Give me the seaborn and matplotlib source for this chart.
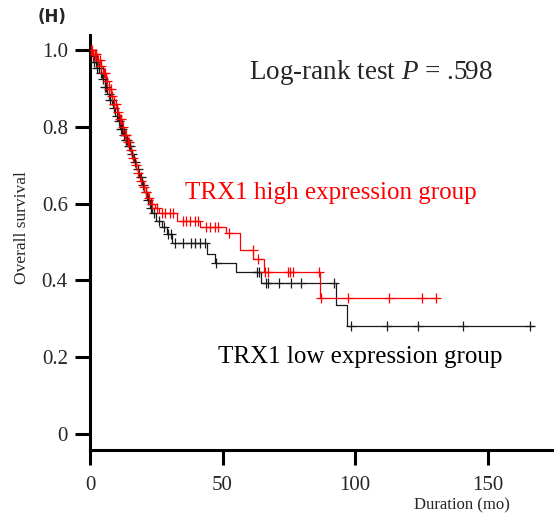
import matplotlib
matplotlib.use("Agg")
import matplotlib.pyplot as plt
import seaborn as sns
import pandas as pd
import numpy as np

# Kaplan-Meier step points (time in months, survival after the drop)
high_time = [0, 1.0, 2.5, 4.0, 5.0, 6.0, 7.0, 8.0, 9.0, 10.0, 11.0, 12.0, 13.0, 14.0, 15.0,
             16.0, 17.0, 18.0, 19.0, 20.0, 21.0, 22.0, 23.0, 24.5, 26.0, 33.0, 41.6, 51.4,
             56.4, 61.4, 65.6, 86.7, 130.5]
high_surv = [1.0, 0.99, 0.975, 0.96, 0.94, 0.92, 0.90, 0.88, 0.86, 0.84, 0.82, 0.80, 0.78,
             0.76, 0.74, 0.72, 0.70, 0.68, 0.66, 0.645, 0.63, 0.615, 0.60, 0.59, 0.575,
             0.556, 0.540, 0.523, 0.480, 0.455, 0.423, 0.353, 0.353]
high_cens = [0.3, 0.8, 1.3, 1.8, 2.3, 3.0, 3.6, 4.3, 5.2, 5.8, 6.5, 7.2, 7.8, 8.4, 9.2, 9.8,
             10.5, 11.2, 11.8, 12.4, 13.1, 13.6, 14.3, 14.8, 15.5, 16.3, 17.2, 18.2, 19.1,
             20.2, 21.2, 22.3, 23.5, 25.2, 27.0, 28.2, 30.1, 31.3, 35.1, 36.3, 37.6, 39.5,
             40.8, 43.8, 45.1, 47.0, 48.2, 52.4, 61.3, 63.5, 66.0, 67.0, 74.5, 75.4, 76.4,
             86.5, 87.1, 97.4, 112.8, 125.2, 130.5]

low_time = [0, 0.8, 1.6, 2.5, 3.5, 4.5, 5.5, 6.5, 7.5, 8.5, 9.5, 10.5, 11.5, 12.5, 13.5, 14.5,
            15.5, 16.5, 17.5, 18.5, 19.5, 20.5, 21.5, 22.5, 23.5, 25.0, 27.0, 29.0, 31.0,
            44.1, 47.0, 54.9, 64.5, 92.9, 97.1, 167.3]
low_surv = [1.0, 0.985, 0.97, 0.955, 0.94, 0.925, 0.905, 0.885, 0.87, 0.85, 0.83, 0.815,
            0.795, 0.78, 0.765, 0.75, 0.73, 0.71, 0.69, 0.67, 0.65, 0.63, 0.61, 0.59, 0.575,
            0.555, 0.54, 0.52, 0.497, 0.468, 0.446, 0.423, 0.394, 0.336, 0.281, 0.281]
low_cens = [0.5, 1.0, 1.6, 2.2, 2.8, 3.4, 4.0, 4.8, 5.5, 6.2, 7.0, 7.6, 8.4, 9.2, 10.0, 10.8,
            11.6, 12.2, 12.7, 13.2, 13.6, 14.1, 14.6, 15.2, 16.0, 17.0, 18.2, 19.2, 20.0,
            21.0, 22.0, 23.0, 24.0, 26.0, 28.0, 29.5, 30.5, 32.0, 35.0, 38.0, 39.5, 41.4,
            43.2, 47.6, 62.9, 63.9, 66.2, 67.0, 71.4, 75.8, 79.6, 92.1, 98.6, 112.2, 123.7,
            140.5, 165.8]


def surv_at(times, surv, t):
    idx = np.searchsorted(times, t, side="right") - 1
    return np.asarray(surv)[idx]


curves = pd.concat([
    pd.DataFrame({"time": high_time, "surv": high_surv, "group": "high"}),
    pd.DataFrame({"time": low_time, "surv": low_surv, "group": "low"}),
])
cens = pd.concat([
    pd.DataFrame({"time": high_cens, "surv": surv_at(high_time, high_surv, high_cens), "group": "high"}),
    pd.DataFrame({"time": low_cens, "surv": surv_at(low_time, low_surv, low_cens), "group": "low"}),
])
palette = {"high": "#ff0000", "low": "#1a1a1a"}

sns.set_style("ticks")
plt.rcParams["font.family"] = ["Liberation Serif", "DejaVu Serif"]
plt.rcParams["mathtext.fontset"] = "custom"
plt.rcParams["mathtext.it"] = "Liberation Serif:italic"
plt.rcParams["mathtext.rm"] = "Liberation Serif"

fig = plt.figure(figsize=(5.54, 5.21), dpi=100)
ax = fig.add_axes([90 / 554, 71 / 521, 1 - 90 / 554, (450 - 35) / 521])

# draw low group first so red sits on top
for g in ["low", "high"]:
    sns.lineplot(data=curves[curves.group == g], x="time", y="surv", color=palette[g],
                 drawstyle="steps-post", lw=0.9, estimator=None, sort=False, ax=ax, legend=False)
    sns.scatterplot(data=cens[cens.group == g], x="time", y="surv", color=palette[g],
                    marker="+", s=55, linewidth=0.9, ax=ax, legend=False, zorder=3)

ax.set_xlim(0, 175)
ax.set_ylim(-0.042, 1.04)
ax.set_xticks([0, 50, 100, 150])
ax.set_yticks([0, 0.2, 0.4, 0.6, 0.8, 1.0])
ax.set_yticklabels(["0", "0.2", "0.4", "0.6", "0.8", "1.0"])
ax.tick_params(axis="both", length=11, width=2.2, labelsize=15, pad=5, color="black")
ax.tick_params(axis="x", pad=8)
for side in ["top", "right"]:
    ax.spines[side].set_visible(False)
for side in ["left", "bottom"]:
    ax.spines[side].set_linewidth(2.2)
    ax.spines[side].set_color("black")

ax.set_xlabel("")
ax.set_ylabel("")
fig.text(22 / 554, 1 - 228 / 521, "Overall survival", rotation=90, ha="center", va="center", fontsize=12.5)
fig.text(462 / 554, 1 - 505 / 521, "Duration (mo)", ha="center", va="center", fontsize=12)
fig.text(38 / 554, 1 - 17 / 521, "(H)", ha="left", va="center", fontsize=12,
         fontweight="bold", family="DejaVu Sans")

ax.text(60, 0.943, "Log-rank test $P$ = .598", fontsize=19.5, va="center", ha="left")
ax.text(35.7, 0.628, "TRX1 high expression group", fontsize=18, va="center", ha="left", color="#ff0000")
ax.text(48.1, 0.20, "TRX1 low expression group", fontsize=18, va="center", ha="left", color="black")

fig.savefig("out.png", dpi=100)
